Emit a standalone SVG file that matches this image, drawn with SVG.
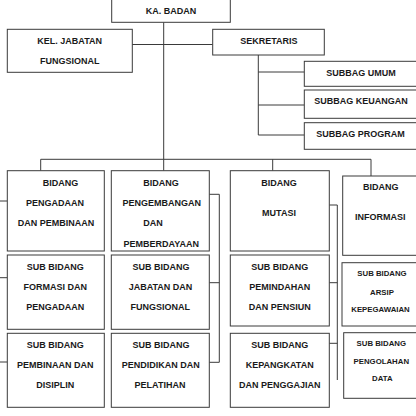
<svg xmlns="http://www.w3.org/2000/svg" width="416" height="416" viewBox="0 0 416 416">
<style>
.box{fill:#fff;stroke:#3a3a3a;stroke-width:1}
.ln{fill:none;stroke:#3a3a3a;stroke-width:1}
text{font-family:"Liberation Sans",Arial,sans-serif;font-weight:bold;font-size:9px;fill:#1a1a1a;text-anchor:middle}
text.s{font-size:7.8px}
</style>
<rect width="416" height="416" fill="#fff"/>
<g id="connectors">
<path class="ln" d="M163.7 22.3V159.3M128 44.5H212.7M258.3 55V135M258.3 72H304.3M258.3 105H304.3M258.3 135H304.3"/>
<path class="ln" d="M40.7 159.3H371M40.7 159.3V170.7M163.7 159.3V170.7M272.7 159.3V170.7M371 159.3V176"/>
<path class="ln" d="M0 201H7.3M0 277.7H7.3M0 362H7.3"/>
<path class="ln" d="M209.3 194.3H219.3V362.3M209.3 282.7H219.3M209.3 362.3H219.3"/>
<path class="ln" d="M329.3 205H337.3V380M329.3 282.7H337.3M329.3 343.3H337.3"/>
</g>
<g id="ka-badan"><rect class="box" x="111.7" y="-5" width="118.6" height="27.3"/><text x="171" y="13.5">KA. BADAN</text></g>
<g id="kel-jabatan"><rect class="box" x="7.3" y="29.3" width="125" height="43"/><text x="69.7" y="44">KEL. JABATAN</text><text x="69.7" y="64">FUNGSIONAL</text></g>
<g id="sekretaris"><rect class="box" x="212.7" y="29.3" width="111.6" height="25.7"/><text x="268.8" y="44">SEKRETARIS</text></g>
<g id="subbag-umum"><rect class="box" x="304.3" y="61.3" width="115" height="25"/><text x="361" y="75.5">SUBBAG UMUM</text></g>
<g id="subbag-keuangan"><rect class="box" x="304.3" y="90" width="115" height="28.3"/><text x="361" y="104.3">SUBBAG KEUANGAN</text></g>
<g id="subbag-program"><rect class="box" x="304.3" y="122.7" width="115" height="26.6"/><text x="360.5" y="136.5">SUBBAG PROGRAM</text></g>
<g id="bidang-pengadaan"><rect class="box" x="7.3" y="170.7" width="97" height="80.3"/><text x="60.5" y="185.5">BIDANG</text><text x="55" y="205.5">PENGADAAN</text><text x="56" y="225.5">DAN PEMBINAAN</text></g>
<g id="bidang-pengembangan"><rect class="box" x="111.3" y="170.7" width="98" height="80.3"/><text x="161" y="185.5">BIDANG</text><text x="161.7" y="205.5">PENGEMBANGAN</text><text x="153" y="225.8">DAN</text><text x="161.3" y="246.5">PEMBERDAYAAN</text></g>
<g id="bidang-mutasi"><rect class="box" x="230.3" y="170.7" width="99" height="80.3"/><text x="279" y="185.5">BIDANG</text><text x="279" y="215.5">MUTASI</text></g>
<g id="bidang-informasi"><rect class="box" x="342.7" y="176" width="80" height="79.3"/><text x="380.7" y="189.9">BIDANG</text><text x="380.3" y="219.9">INFORMASI</text></g>
<g id="sub-formasi"><rect class="box" x="7.3" y="255" width="97" height="74.3"/><text x="55.3" y="269.9">SUB BIDANG</text><text x="55.3" y="289.9">FORMASI DAN</text><text x="55.3" y="309.9">PENGADAAN</text></g>
<g id="sub-pembinaan"><rect class="box" x="7.3" y="333.3" width="97" height="74"/><text x="55.3" y="348.2">SUB BIDANG</text><text x="55.3" y="368.2">PEMBINAAN DAN</text><text x="55.3" y="388.2">DISIPLIN</text></g>
<g id="sub-jabatan"><rect class="box" x="111.3" y="255" width="98" height="74.3"/><text x="161" y="269.9">SUB BIDANG</text><text x="160.5" y="289.9">JABATAN DAN</text><text x="160.3" y="309.9">FUNGSIONAL</text></g>
<g id="sub-pendidikan"><rect class="box" x="111.3" y="333.3" width="98" height="74"/><text x="161" y="348.2">SUB BIDANG</text><text x="160.8" y="368.2">PENDIDIKAN DAN</text><text x="160" y="388.2">PELATIHAN</text></g>
<g id="sub-pemindahan"><rect class="box" x="230.3" y="255" width="99" height="71"/><text x="279.8" y="269.9">SUB BIDANG</text><text x="279.8" y="289.9">PEMINDAHAN</text><text x="279.8" y="309.9">DAN PENSIUN</text></g>
<g id="sub-kepangkatan"><rect class="box" x="230.3" y="333.3" width="99" height="74"/><text x="279.7" y="348.2">SUB BIDANG</text><text x="279.7" y="368.2">KEPANGKATAN</text><text x="279.7" y="388.2">DAN PENGGAJIAN</text></g>
<g id="sub-arsip"><rect class="box" x="342" y="262.7" width="80" height="63.3"/><text class="s" x="382" y="276.1">SUB BIDANG</text><text class="s" x="382" y="294.5">ARSIP</text><text class="s" x="380.5" y="311.8">KEPEGAWAIAN</text></g>
<g id="sub-pengolahan"><rect class="box" x="343.7" y="332.7" width="80" height="65.6"/><text class="s" x="381.3" y="346.1">SUB BIDANG</text><text class="s" x="381.3" y="363.8">PENGOLAHAN</text><text class="s" x="382.3" y="381.1">DATA</text></g>
</svg>
